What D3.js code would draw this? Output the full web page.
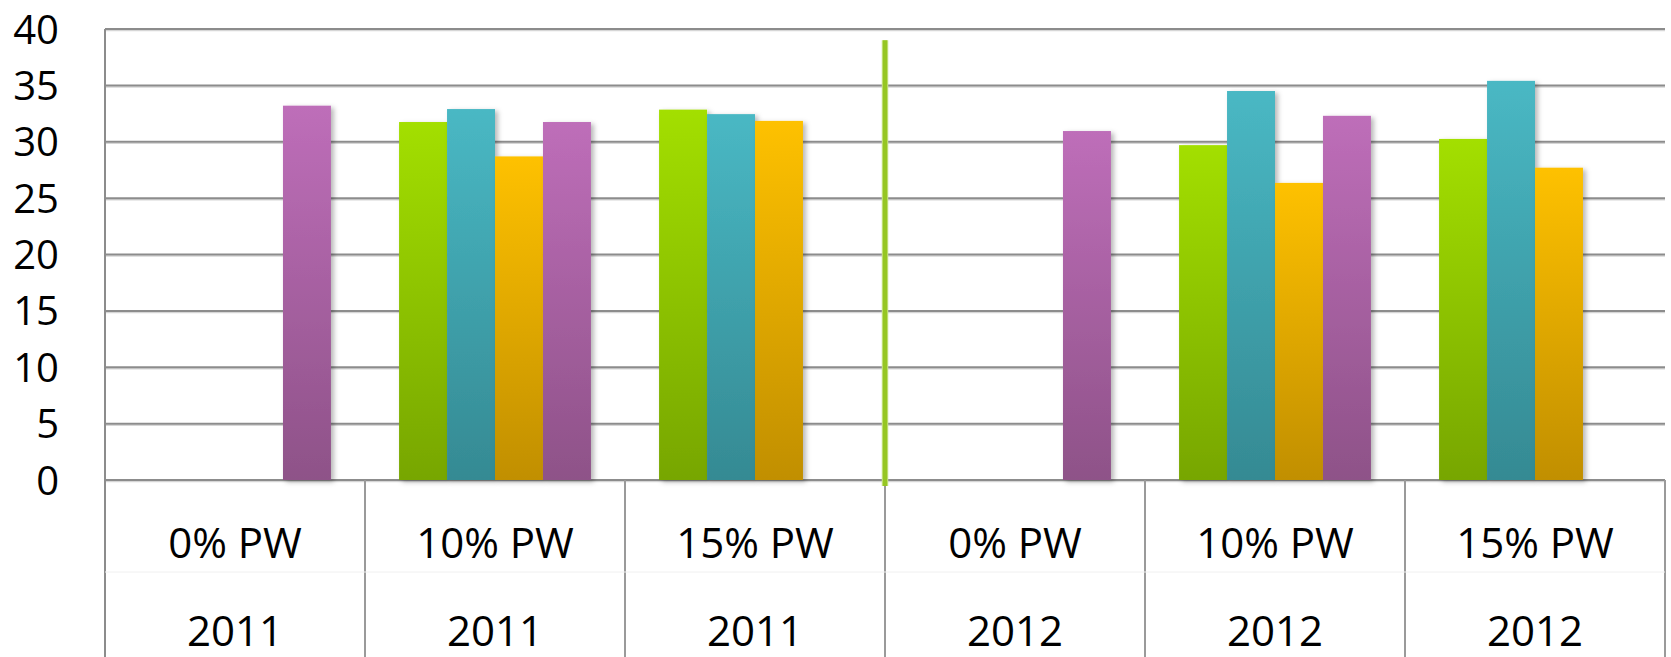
<!DOCTYPE html>
<html>
<head>
<meta charset="utf-8">
<script src="https://cdn.jsdelivr.net/npm/d3@7"></script>
<style>
  html, body { margin: 0; padding: 0; background: #fff; }
  svg { display: block; font-family: "Open Sans", sans-serif; }
</style>
</head>
<body>
<div id="chartDiv"></div>
<script>
'use strict';

// categories (two-level axis)
const levels = ['0% PW', '10% PW', '15% PW', '0% PW', '10% PW', '15% PW'];
const years = ['2011', '2011', '2011', '2012', '2012', '2012'];

// series values, one array per colour (null = no bar)
const seriesNames = ['green', 'teal', 'orange', 'purple'];
const greenVals  = [null, 31.75, 32.85, null, 29.7, 30.25];
const tealVals   = [null, 32.9, 32.45, null, 34.5, 35.4];
const orangeVals = [null, 28.7, 31.85, null, 26.35, 27.7];
const purpleVals = [33.2, 31.75, null, 30.95, 32.3, null];

const yTicks = [0, 5, 10, 15, 20, 25, 30, 35, 40];
const dividerTop = 39;   // the green separator between the two years

const W = 1671, H = 657;
const margin = { top: 29, right: 6, bottom: 177, left: 105 };
const innerW = W - margin.left - margin.right;
const innerH = H - margin.top - margin.bottom;

const gradStops = {
    green:  ['#a3df03', '#77a604'],
    teal:   ['#49b8c4', '#358a93'],
    orange: ['#fec100', '#c18f00'],
    purple: ['#be6eb9', '#8e5288']
};

const cats = levels.map((d, i) => i);
const allVals = [greenVals, tealVals, orangeVals, purpleVals];

const x0 = d3.scaleBand().domain(cats).range([0, innerW]).padding(0);
const x1 = d3.scaleBand().domain(seriesNames).range([0, x0.bandwidth()])
    .paddingInner(0).paddingOuter(0.71);
const y = d3.scaleLinear().domain([0, 40]).range([innerH, 0]);

const svg = d3.select('#chartDiv').append('svg')
    .attr('width', W).attr('height', H);

const defs = svg.append('defs');
seriesNames.forEach(s => {
    const lg = defs.append('linearGradient')
        .attr('id', 'grad-' + s)
        .attr('x1', 0).attr('y1', 0).attr('x2', 0).attr('y2', 1);
    lg.append('stop').attr('offset', '0%').attr('stop-color', gradStops[s][0]);
    lg.append('stop').attr('offset', '100%').attr('stop-color', gradStops[s][1]);
});
const shadow = defs.append('filter').attr('id', 'barShadow')
    .attr('x', '-20%').attr('y', '-10%').attr('width', '150%').attr('height', '130%');
shadow.append('feDropShadow')
    .attr('dx', 3).attr('dy', 2).attr('stdDeviation', 2.5)
    .attr('flood-color', '#000').attr('flood-opacity', 0.28);

const g = svg.append('g')
    .attr('transform', `translate(${margin.left},${margin.top})`);

// gridlines (with a soft light shadow line below each)
const grid = g.append('g').attr('class', 'grid');
grid.selectAll('line.shade').data(yTicks).join('line')
    .attr('class', 'shade')
    .attr('x1', 0).attr('x2', innerW)
    .attr('y1', d => y(d) + 1.5).attr('y2', d => y(d) + 1.5)
    .attr('stroke', '#d6d6d6').attr('stroke-width', 1.5);
grid.selectAll('line.main').data(yTicks).join('line')
    .attr('class', 'main')
    .attr('x1', 0).attr('x2', innerW)
    .attr('y1', d => y(d)).attr('y2', d => y(d))
    .attr('stroke', '#8c8c8c').attr('stroke-width', 2);

// y axis labels
const yAxis = g.append('g')
    .call(d3.axisLeft(y).tickValues(yTicks).tickSize(0).tickPadding(46));
yAxis.select('.domain').remove();
yAxis.selectAll('text')
    .attr('font-family', '"Open Sans", sans-serif')
    .attr('font-size', 40)
    .attr('fill', '#000')
    .attr('dy', '0.35em');

// left axis line
g.append('line')
    .attr('x1', 0).attr('x2', 0).attr('y1', 0).attr('y2', H - margin.top)
    .attr('stroke', '#8c8c8c').attr('stroke-width', 2);

// category dividers below the axis
const catBounds = cats.slice(1).map(c => x0(c)).concat([innerW]);
g.selectAll('line.catTick').data(catBounds).join('line')
    .attr('class', 'catTick')
    .attr('x1', d => d).attr('x2', d => d)
    .attr('y1', innerH).attr('y2', H - margin.top)
    .attr('stroke', '#9a9a9a').attr('stroke-width', 2);

// faint separator between the two label rows
g.append('line')
    .attr('x1', 0).attr('x2', innerW)
    .attr('y1', innerH + 92).attr('y2', innerH + 92)
    .attr('stroke', '#f0f0f0').attr('stroke-width', 1);

// bars
const groups = g.selectAll('g.cat').data(cats).join('g')
    .attr('class', 'cat')
    .attr('transform', c => `translate(${x0(c)},0)`);

groups.selectAll('rect')
    .data(c => seriesNames.map((s, k) => ({ s, v: allVals[k][c] })).filter(d => d.v != null))
    .join('rect')
    .attr('x', d => x1(d.s))
    .attr('width', x1.bandwidth())
    .attr('y', d => y(d.v))
    .attr('height', d => y(0) - y(d.v))
    .attr('fill', d => `url(#grad-${d.s})`)
    .attr('filter', 'url(#barShadow)');

// green divider between 2011 and 2012
g.append('line')
    .attr('x1', x0(3)).attr('x2', x0(3))
    .attr('y1', y(dividerTop)).attr('y2', y(0) + 6)
    .attr('stroke', '#c8e48a').attr('stroke-width', 6.5);
g.append('line')
    .attr('x1', x0(3)).attr('x2', x0(3))
    .attr('y1', y(dividerTop)).attr('y2', y(0) + 6)
    .attr('stroke', '#96c623').attr('stroke-width', 4.5);

// category labels
const labels = g.append('g').attr('font-size', 42).attr('text-anchor', 'middle').attr('fill', '#000');
labels.selectAll('text.lvl').data(cats).join('text')
    .attr('class', 'lvl')
    .attr('x', c => x0(c) + x0.bandwidth() / 2)
    .attr('y', 558 - margin.top)
    .text(c => levels[c]);
labels.selectAll('text.yr').data(cats).join('text')
    .attr('class', 'yr')
    .attr('x', c => x0(c) + x0.bandwidth() / 2)
    .attr('y', 646 - margin.top)
    .text(c => years[c]);
</script>
</body>
</html>
